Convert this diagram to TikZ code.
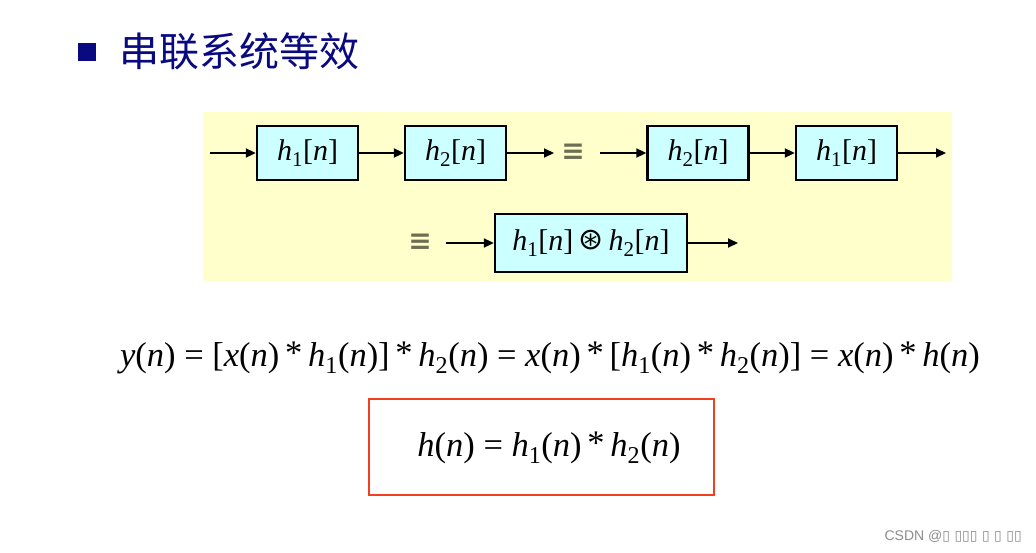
\documentclass[tikz,border=0pt]{standalone}
\usepackage{amsmath,amssymb}
\usepackage{fontspec}
\setmainfont{Liberation Serif}
\newfontfamily\cjk{Noto Sans CJK SC}
\newfontfamily\dvs{DejaVu Sans}
\newfontfamily\wmfont{Liberation Sans}
\usetikzlibrary{positioning,arrows.meta}
\definecolor{navy}{HTML}{0A0A80}
\definecolor{panel}{HTML}{FFFFCC}
\definecolor{cyanbox}{HTML}{CCFFFF}
\definecolor{eqgray}{HTML}{6E6E52}
\definecolor{redline}{HTML}{F2401E}
\newcommand{\vi}[1]{\textit{#1}}
\newcommand{\sbs}[1]{\textsubscript{#1}}
\newcommand{\cv}{\,\raisebox{0.1ex}{*}\,}

\begin{document}
\begin{tikzpicture}[x=1pt,y=-1pt]
\tikzset{blk/.style={draw,line width=2.4pt,fill=cyanbox,minimum width=101pt,minimum height=54pt,inner sep=0pt,font=\fontsize{30}{32}\selectfont},
  sig/.style={line width=2pt,-{Triangle[length=10pt,width=9pt]}},
  eqv/.style={text=eqgray,font=\dvs\bfseries\fontsize{28}{30}\selectfont},
  formula/.style={font=\fontsize{34.5}{36}\selectfont}}
\useasboundingbox (0,0) rectangle (1036,552);
% title
\fill[navy] (78,43) rectangle (96,61);
\node[anchor=west,text=navy,font=\cjk\fontsize{40}{42}\selectfont,inner sep=0pt] (title) at (119,51) {串联系统等效};
% yellow panel
\fill[panel] (203,112) rectangle (952,281);
% first row
\coordinate (in1) at (210,153);
\node[blk] (h1a) at (307.5,153) {\vi{h}\sbs{1}[\vi{n}]};
\node[blk] (h2a) at (455.5,153) {\vi{h}\sbs{2}[\vi{n}]};
\coordinate (out1) at (554,153);
\node[eqv] (eq1) at (573,152) {≡};
\coordinate (in2) at (600,153);
\node[blk] (h2b) at (698,153) {\vi{h}\sbs{2}[\vi{n}]};
\node[blk] (h1b) at (846.5,153) {\vi{h}\sbs{1}[\vi{n}]};
\coordinate (out2) at (946,153);
\draw[sig] (in1) -- (h1a);
\draw[sig] (h1a) -- (h2a);
\draw[sig] (h2a) -- (out1);
\draw[sig] (in2) -- (h2b);
\draw[sig] (h2b) -- (h1b);
\draw[sig] (h1b) -- (out2);
% second row
\node[eqv] (eq2) at (420,242) {≡};
\coordinate (in3) at (446,243);
\node[blk,minimum width=192pt,minimum height=58pt] (h12) at (591,243) {\vi{h}\sbs{1}[\vi{n}]\,{\dvs\fontsize{30}{32}\selectfont\raisebox{0.05ex}{⊛}}\,\vi{h}\sbs{2}[\vi{n}]};
\coordinate (out3) at (738,243);
\draw[sig] (in3) -- (h12);
\draw[sig] (h12) -- (out3);
% formulas
\node[formula] (conv) at (550,358) {\vi{y}(\vi{n}) = [\vi{x}(\vi{n})\cv\vi{h}\sbs{1}(\vi{n})]\cv\vi{h}\sbs{2}(\vi{n}) = \vi{x}(\vi{n})\cv[\vi{h}\sbs{1}(\vi{n})\cv\vi{h}\sbs{2}(\vi{n})] = \vi{x}(\vi{n})\cv\vi{h}(\vi{n})};
\draw[redline,line width=2.8pt] (369,399) rectangle (714,495);
\node[formula] (hn) at (549,448) {\vi{h}(\vi{n}) = \vi{h}\sbs{1}(\vi{n})\cv\vi{h}\sbs{2}(\vi{n})};
% watermark
\node[anchor=east,text=black!45,font=\wmfont\fontsize{14}{16}\selectfont,inner sep=0pt] (wm) at (1022,536) {CSDN @{\dvs ▯ ▯▯▯ ▯ ▯ ▯▯}};
\end{tikzpicture}
\end{document}
